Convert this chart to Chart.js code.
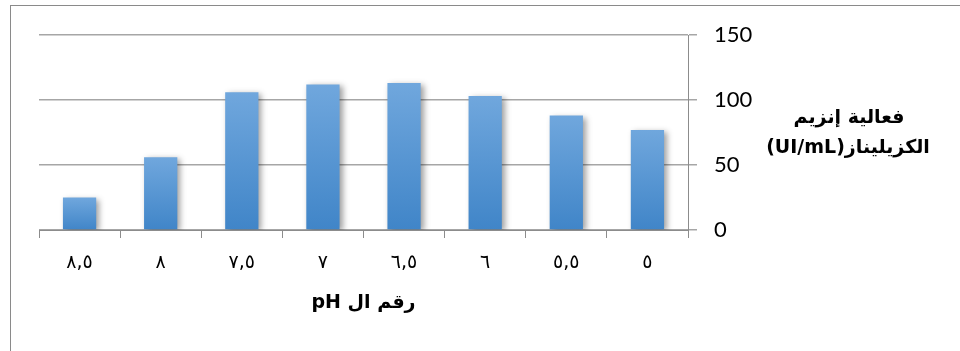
<!DOCTYPE html>
<html>
<head>
<meta charset="utf-8">
<script src="https://cdn.jsdelivr.net/npm/chart.js@4/dist/chart.umd.min.js"></script>
<style>
  html, body { margin: 0; padding: 0; background: #ffffff; }
  canvas { display: block; }
</style>
</head>
<body>
<canvas id="chart" width="960" height="351"></canvas>
<script>
// pH categories (Arabic-Indic digits), ascending; the axis is drawn reversed
const phLabels = ['٥', '٥,٥', '٦', '٦,٥', '٧', '٧,٥', '٨', '٨,٥'];
// Xylanase activity (UI/mL) for each pH
const activity = [77, 88, 103, 113, 112, 106, 56, 25];
// Value axis ticks
const yTicks = [0, 50, 100, 150];
// Axis titles
const yTitleLines = ['فعالية إنزيم', 'الكزيليناز(UI/mL)'];
const xTitle = 'رقم ال pH';

const GRID = '#a6a6a6';
const AXIS = '#8c8c8c';

// Outer frame of the chart object
const framePlugin = {
  id: 'frame',
  beforeDraw(chart) {
    const c = chart.ctx;
    c.save();
    c.strokeStyle = '#8a8a8a';
    c.lineWidth = 1;
    c.strokeRect(10.5, 5.5, 1200, 600);
    c.restore();
  }
};

// Soft drop shadow behind the bars
const shadowPlugin = {
  id: 'barShadow',
  beforeDatasetDraw(chart) {
    const c = chart.ctx;
    c.save();
    c.shadowColor = 'rgba(0,0,0,0.38)';
    c.shadowBlur = 6;
    c.shadowOffsetX = 3;
    c.shadowOffsetY = 2;
  },
  afterDatasetDraw(chart) {
    chart.ctx.restore();
  }
};

// Right-to-left axis titles
const titlesPlugin = {
  id: 'rtlTitles',
  afterDraw(chart) {
    const c = chart.ctx;
    const a = chart.chartArea;
    c.save();
    c.direction = 'rtl';
    c.fillStyle = '#000000';
    c.textAlign = 'center';
    c.textBaseline = 'middle';
    c.font = 'bold 19px "DejaVu Sans", sans-serif';
    const yx = a.right + 161;
    c.fillText(yTitleLines[0], yx, a.top + 83);
    c.fillText(yTitleLines[1], yx - 1, a.top + 113);
    c.fillText(xTitle, (a.left + a.right) / 2, a.bottom + 73);
    c.restore();
  }
};

new Chart(document.getElementById('chart'), {
  type: 'bar',
  data: {
    labels: phLabels,
    datasets: [{
      data: activity,
      backgroundColor(ctx) {
        const chart = ctx.chart;
        if (!chart.chartArea || ctx.type !== 'data') return '#5b9bd5';
        const y = chart.scales.y;
        const top = y.getPixelForValue(ctx.raw);
        const bottom = y.getPixelForValue(0);
        const g = chart.ctx.createLinearGradient(0, top, 0, bottom);
        g.addColorStop(0, '#70a7dd');
        g.addColorStop(1, '#4085c8');
        return g;
      },
      borderWidth: 0,
      categoryPercentage: 1,
      barPercentage: 0.41
    }]
  },
  options: {
    responsive: false,
    animation: false,
    devicePixelRatio: 1,
    layout: { padding: { left: 39, top: 35, right: 0, bottom: 0 } },
    plugins: {
      legend: { display: false },
      tooltip: { enabled: false },
      title: { display: false }
    },
    scales: {
      x: {
        reverse: true,
        grid: {
          display: true,
          drawOnChartArea: false,
          drawTicks: true,
          tickLength: 8,
          color: AXIS,
          offset: true
        },
        border: { display: true, color: AXIS, width: 1 },
        ticks: {
          color: '#000000',
          font: { family: '"DejaVu Sans", sans-serif', size: 19 },
          padding: 14,
          maxRotation: 0,
          autoSkip: false
        },
        afterFit(scale) { scale.height = 121; }
      },
      y: {
        position: 'right',
        min: yTicks[0],
        max: yTicks[yTicks.length - 1],
        ticks: {
          stepSize: yTicks[1] - yTicks[0],
          color: '#000000',
          font: { family: 'Lato, "Open Sans", sans-serif', size: 22 },
          padding: 17
        },
        grid: {
          color: GRID,
          lineWidth: 1.5,
          tickLength: 9,
          drawTicks: true
        },
        border: { display: true, color: AXIS, width: 1 },
        afterFit(scale) { scale.width = 272; }
      }
    }
  },
  plugins: [framePlugin, shadowPlugin, titlesPlugin]
});
</script>
</body>
</html>
